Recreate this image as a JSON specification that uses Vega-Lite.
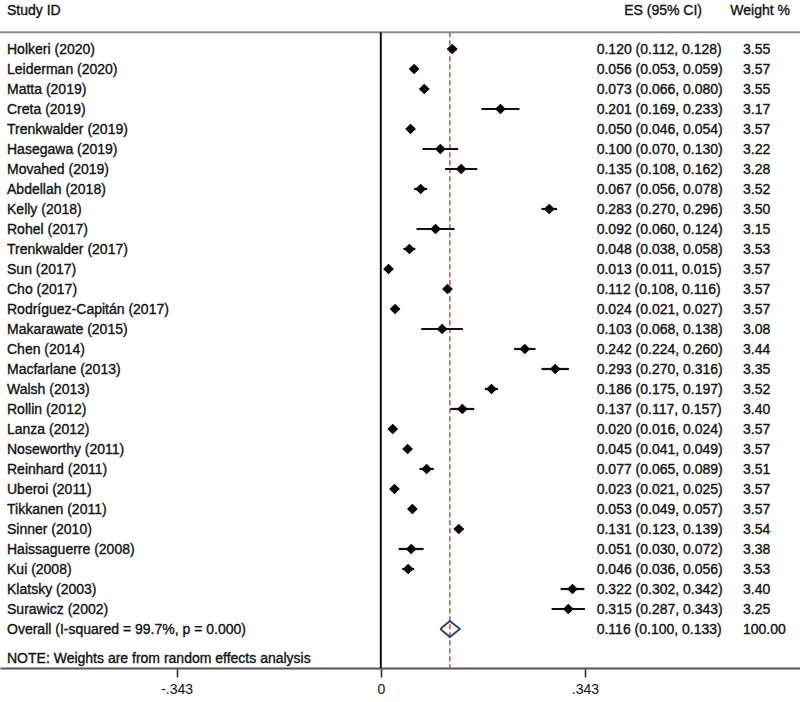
{
  "$schema": "https://vega.github.io/schema/vega-lite/v6.json",
  "autosize": {"type": "none"},
  "padding": {"left": 0, "top": 0, "right": 0, "bottom": 34},
  "width": 800,
  "height": 668,
  "background": "white",
  "config": {
    "view": {"stroke": null},
    "text": {"font": "Liberation Sans", "fontSize": 14, "color": "#111111", "stroke": "#111111", "strokeWidth": 0.35, "baseline": "middle"}
  },
  "datasets": {
    "rows": [
      {"r": 1, "study": "Holkeri (2020)", "es": 0.120, "lo": 0.112, "hi": 0.128, "w": 3.55, "kind": "study"},
      {"r": 2, "study": "Leiderman (2020)", "es": 0.056, "lo": 0.053, "hi": 0.059, "w": 3.57, "kind": "study"},
      {"r": 3, "study": "Matta (2019)", "es": 0.073, "lo": 0.066, "hi": 0.080, "w": 3.55, "kind": "study"},
      {"r": 4, "study": "Creta (2019)", "es": 0.201, "lo": 0.169, "hi": 0.233, "w": 3.17, "kind": "study"},
      {"r": 5, "study": "Trenkwalder (2019)", "es": 0.050, "lo": 0.046, "hi": 0.054, "w": 3.57, "kind": "study"},
      {"r": 6, "study": "Hasegawa (2019)", "es": 0.100, "lo": 0.070, "hi": 0.130, "w": 3.22, "kind": "study"},
      {"r": 7, "study": "Movahed (2019)", "es": 0.135, "lo": 0.108, "hi": 0.162, "w": 3.28, "kind": "study"},
      {"r": 8, "study": "Abdellah (2018)", "es": 0.067, "lo": 0.056, "hi": 0.078, "w": 3.52, "kind": "study"},
      {"r": 9, "study": "Kelly (2018)", "es": 0.283, "lo": 0.270, "hi": 0.296, "w": 3.50, "kind": "study"},
      {"r": 10, "study": "Rohel (2017)", "es": 0.092, "lo": 0.060, "hi": 0.124, "w": 3.15, "kind": "study"},
      {"r": 11, "study": "Trenkwalder (2017)", "es": 0.048, "lo": 0.038, "hi": 0.058, "w": 3.53, "kind": "study"},
      {"r": 12, "study": "Sun (2017)", "es": 0.013, "lo": 0.011, "hi": 0.015, "w": 3.57, "kind": "study"},
      {"r": 13, "study": "Cho (2017)", "es": 0.112, "lo": 0.108, "hi": 0.116, "w": 3.57, "kind": "study"},
      {"r": 14, "study": "Rodríguez-Capitán (2017)", "es": 0.024, "lo": 0.021, "hi": 0.027, "w": 3.57, "kind": "study"},
      {"r": 15, "study": "Makarawate (2015)", "es": 0.103, "lo": 0.068, "hi": 0.138, "w": 3.08, "kind": "study"},
      {"r": 16, "study": "Chen (2014)", "es": 0.242, "lo": 0.224, "hi": 0.260, "w": 3.44, "kind": "study"},
      {"r": 17, "study": "Macfarlane (2013)", "es": 0.293, "lo": 0.270, "hi": 0.316, "w": 3.35, "kind": "study"},
      {"r": 18, "study": "Walsh (2013)", "es": 0.186, "lo": 0.175, "hi": 0.197, "w": 3.52, "kind": "study"},
      {"r": 19, "study": "Rollin (2012)", "es": 0.137, "lo": 0.117, "hi": 0.157, "w": 3.40, "kind": "study"},
      {"r": 20, "study": "Lanza (2012)", "es": 0.020, "lo": 0.016, "hi": 0.024, "w": 3.57, "kind": "study"},
      {"r": 21, "study": "Noseworthy (2011)", "es": 0.045, "lo": 0.041, "hi": 0.049, "w": 3.57, "kind": "study"},
      {"r": 22, "study": "Reinhard (2011)", "es": 0.077, "lo": 0.065, "hi": 0.089, "w": 3.51, "kind": "study"},
      {"r": 23, "study": "Uberoi (2011)", "es": 0.023, "lo": 0.021, "hi": 0.025, "w": 3.57, "kind": "study"},
      {"r": 24, "study": "Tikkanen (2011)", "es": 0.053, "lo": 0.049, "hi": 0.057, "w": 3.57, "kind": "study"},
      {"r": 25, "study": "Sinner (2010)", "es": 0.131, "lo": 0.123, "hi": 0.139, "w": 3.54, "kind": "study"},
      {"r": 26, "study": "Haissaguerre (2008)", "es": 0.051, "lo": 0.030, "hi": 0.072, "w": 3.38, "kind": "study"},
      {"r": 27, "study": "Kui (2008)", "es": 0.046, "lo": 0.036, "hi": 0.056, "w": 3.53, "kind": "study"},
      {"r": 28, "study": "Klatsky (2003)", "es": 0.322, "lo": 0.302, "hi": 0.342, "w": 3.40, "kind": "study"},
      {"r": 29, "study": "Surawicz (2002)", "es": 0.315, "lo": 0.287, "hi": 0.343, "w": 3.25, "kind": "study"},
      {"r": 30, "study": "Overall  (I-squared = 99.7%, p = 0.000)", "es": 0.116, "lo": 0.100, "hi": 0.133, "w": 100.00, "kind": "overall"}
    ],
    "diamond": [
      {"k": 1, "x": 0.100, "y": 30},
      {"k": 2, "x": 0.116, "y": 29.6},
      {"k": 3, "x": 0.133, "y": 30},
      {"k": 4, "x": 0.116, "y": 30.4},
      {"k": 5, "x": 0.100, "y": 30}
    ]
  },
  "layer": [
    {
      "data": {"values": [{}]},
      "mark": {"type": "rule", "color": "#8a8a8a", "strokeWidth": 2},
      "encoding": {"y": {"datum": 0.165, "type": "quantitative", "scale": {"domain": [-1.45, 31.95], "reverse": true, "nice": false, "zero": false}, "axis": null}}
    },
    {
      "data": {"values": [{}]},
      "mark": {"type": "rule", "color": "#c46a5a", "strokeWidth": 1.8, "strokeDash": [5, 3]},
      "encoding": {
        "x": {"datum": 0.116, "type": "quantitative"},
        "y": {"datum": 0.165, "type": "quantitative"},
        "y2": {"datum": 31.95}
      }
    },
    {
      "data": {"values": [{}]},
      "mark": {"type": "rule", "color": "#111111", "strokeWidth": 2},
      "encoding": {
        "x": {"datum": 0, "type": "quantitative"},
        "y": {"datum": 0.165, "type": "quantitative"},
        "y2": {"datum": 31.95}
      }
    },
    {
      "data": {"name": "rows"},
      "transform": [{"filter": "datum.kind == 'study'"}],
      "mark": {"type": "rule", "color": "#111111", "strokeWidth": 2.2},
      "encoding": {
        "x": {"field": "lo", "type": "quantitative"},
        "x2": {"field": "hi"},
        "y": {"field": "r", "type": "quantitative"}
      }
    },
    {
      "data": {"name": "rows"},
      "transform": [{"filter": "datum.kind == 'study'"}],
      "mark": {"type": "point", "shape": "diamond", "filled": true, "color": "#000000", "size": 115, "opacity": 1},
      "encoding": {
        "x": {"field": "es", "type": "quantitative"},
        "y": {"field": "r", "type": "quantitative"}
      }
    },
    {
      "data": {"name": "diamond"},
      "mark": {"type": "line", "color": "#2f3a78", "strokeWidth": 1.8},
      "encoding": {
        "x": {"field": "x", "type": "quantitative"},
        "y": {"field": "y", "type": "quantitative"},
        "order": {"field": "k"}
      }
    },
    {
      "data": {"name": "rows"},
      "mark": {"type": "text", "align": "left", "dy": 1},
      "encoding": {
        "x": {"datum": -0.628, "type": "quantitative"},
        "y": {"field": "r", "type": "quantitative"},
        "text": {"field": "study"}
      }
    },
    {
      "data": {"name": "rows"},
      "transform": [{"calculate": "format(datum.es, '.3f') + ' (' + format(datum.lo, '.3f') + ', ' + format(datum.hi, '.3f') + ')'", "as": "ci"}],
      "mark": {"type": "text", "align": "left", "dy": 1},
      "encoding": {
        "x": {"datum": 0.3627, "type": "quantitative"},
        "y": {"field": "r", "type": "quantitative"},
        "text": {"field": "ci"}
      }
    },
    {
      "data": {"name": "rows"},
      "mark": {"type": "text", "align": "left", "dy": 1},
      "encoding": {
        "x": {"datum": 0.6085, "type": "quantitative"},
        "y": {"field": "r", "type": "quantitative"},
        "text": {"field": "w", "format": ".2f"}
      }
    },
    {
      "data": {"values": [{"label": "Study  ID"}]},
      "mark": {"type": "text", "align": "left", "dy": 1},
      "encoding": {
        "x": {"datum": -0.628, "type": "quantitative"},
        "y": {"datum": -0.95, "type": "quantitative"},
        "text": {"field": "label"}
      }
    },
    {
      "data": {"values": [
        {"label": "ES (95% CI)", "x": 0.5397},
        {"label": "Weight %", "x": 0.6875}
      ]},
      "mark": {"type": "text", "align": "right", "dy": 1},
      "encoding": {
        "x": {"field": "x", "type": "quantitative"},
        "y": {"datum": -0.95, "type": "quantitative"},
        "text": {"field": "label"}
      }
    },
    {
      "data": {"values": [{"label": "NOTE: Weights are from random effects analysis"}]},
      "mark": {"type": "text", "align": "left", "dy": 1},
      "encoding": {
        "x": {"datum": -0.628, "type": "quantitative"},
        "y": {"datum": 31.45, "type": "quantitative"},
        "text": {"field": "label"}
      }
    }
  ],
  "encoding": {
    "x": {
      "type": "quantitative",
      "scale": {"domain": [-0.63978, 0.7043], "nice": false, "zero": false},
      "axis": {
        "title": null,
        "values": [-0.343, 0, 0.343],
        "labelExpr": "datum.value == 0 ? '0' : (datum.value < 0 ? '-.343' : '.343')",
        "grid": false,
        "domainColor": "#555555",
        "domainWidth": 2,
        "tickColor": "#333333",
        "tickWidth": 1.6,
        "tickSize": 9,
        "labelFont": "Liberation Sans",
        "labelFontSize": 14,
        "labelColor": "#111111",
        "labelPadding": 5
      }
    }
  },
  "resolve": {"scale": {"x": "shared", "y": "shared"}}
}
